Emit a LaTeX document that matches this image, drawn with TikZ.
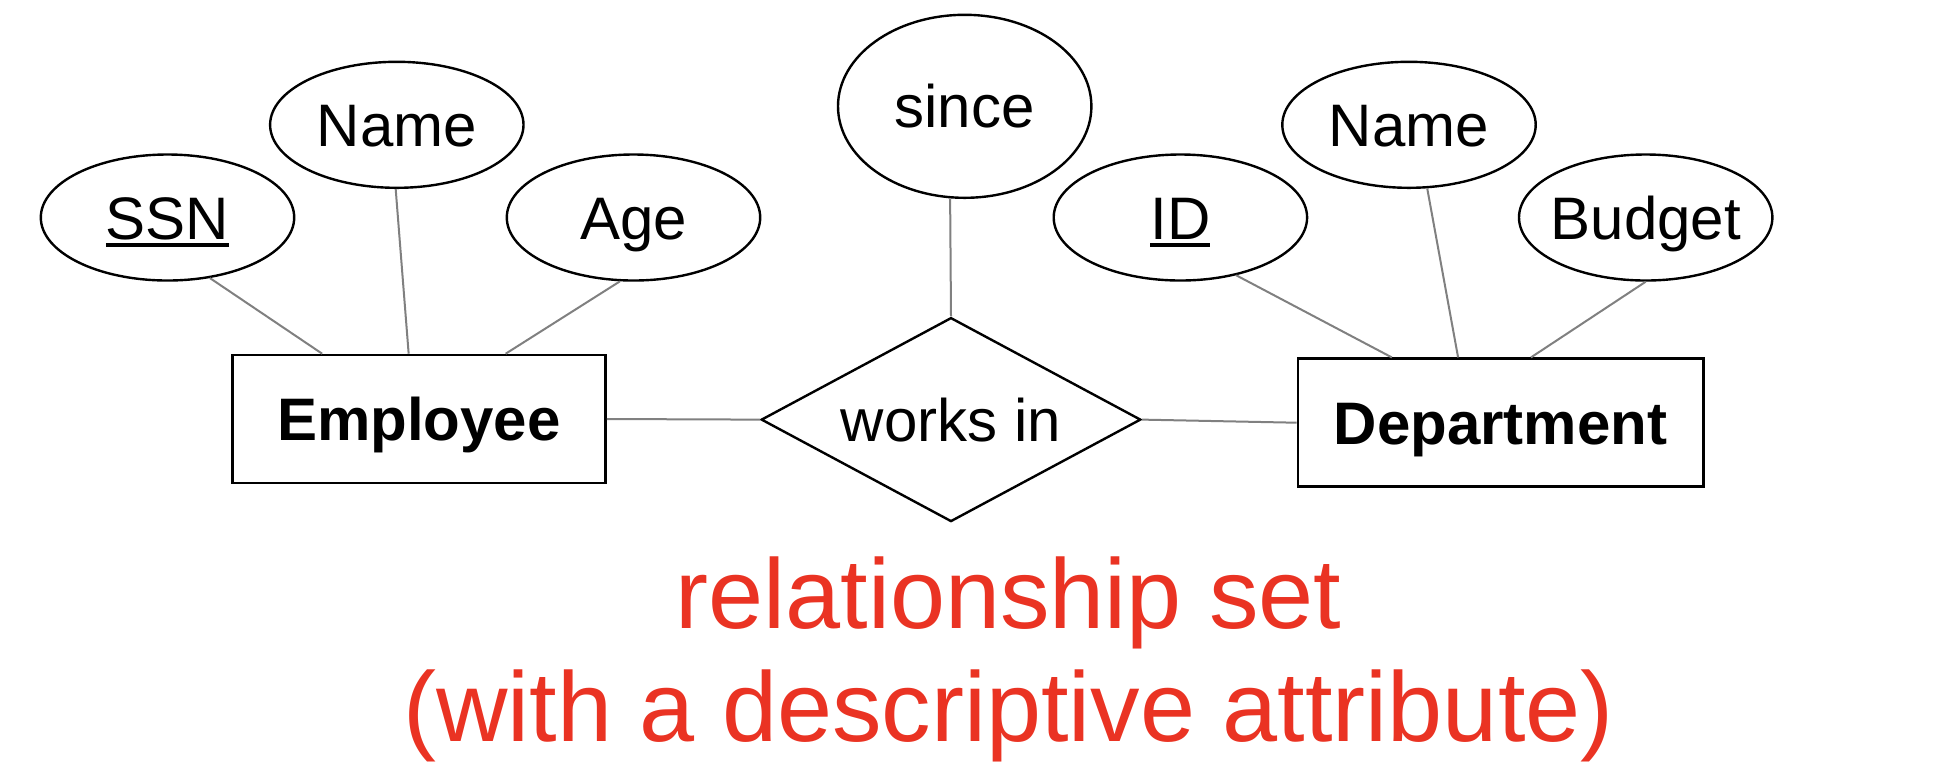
\documentclass[tikz,border=0pt]{standalone}
\usepackage{fontspec}
\setmainfont{Liberation Sans}
\usetikzlibrary{shapes, positioning}
\definecolor{my_red}{RGB}{234, 51, 35}
\definecolor{my_gray}{RGB}{128, 128, 128}
\newcommand{\keyattr}[1]{\setbox0\hbox{#1}\rlap{\rule[-3.7pt]{\wd0}{1.85pt}}\box0}
\tikzset {
  entity/.style = {draw, line width=1.3pt, rectangle, minimum height=64pt, font=\fontsize{30}{36}\selectfont\bfseries, text height=21.6pt, text depth=0pt},
  attr/.style = {draw, line width=1.2pt, ellipse, minimum width=126.7pt, minimum height=63pt, inner xsep=-8pt, inner ysep=0pt, font=\fontsize{30}{36}\selectfont, text height=21.6pt, text depth=0pt},
  rel/.style = {draw, line width=1.2pt, diamond, aspect=1.86, minimum width=189.8pt, minimum height=102pt, inner sep=0pt, font=\fontsize{30}{36}\selectfont, text height=21.6pt, text depth=0pt},
  line/.style = {draw=my_gray, line width=1pt},
  caption/.style = {text=my_red, align=center, font=\fontsize{49.5}{56.8}\selectfont}
}

\begin{document}
\begin{tikzpicture}[x=0.5pt, y=-0.5pt]
    \useasboundingbox (0,0) rectangle (1938,768);

    % entities and relationship
    \node[entity, minimum width=186.5pt] (employee) at (419,419) {Employee};
    \node[rel] (worksin) at (951,419.6) {works in};
    \node[entity, minimum width=202.7pt] (department) at (1500.5,422.7) {Department};

    % attributes
    \node[attr] (ssn) at (167.5,217.5) {\keyattr{SSN}};
    \node[attr] (ename) at (396.8,124.8) {Name};
    \node[attr] (age) at (633.5,217.5) {Age};
    \node[attr, minimum height=91.5pt] (since) at (964.7,106.3) {since};
    \node[attr] (did) at (1180.4,217.5) {\keyattr{ID}};
    \node[attr] (dname) at (1409,124.8) {Name};
    \node[attr] (budget) at (1645.7,217.5) {Budget};

    \draw[line] (ssn.-55) -- (employee.146);
    \draw[line] (ename.-91) -- (employee.99);
    \draw[line] (age.-102) -- (employee.37);
    \draw[line] (since.-99) -- (worksin.north);
    \draw[line] (employee.east) -- (worksin.west);
    \draw[line] (worksin.east) -- (department.west);
    \draw[line] (did.-46) -- (department.149);
    \draw[line] (dname.-74) -- (department.123);
    \draw[line] (budget.south) -- (department.65);

    \node[caption, anchor=base] (note) at (1008.5,741.6) {relationship set\\(with a descriptive attribute)};

\end{tikzpicture}
\end{document}
